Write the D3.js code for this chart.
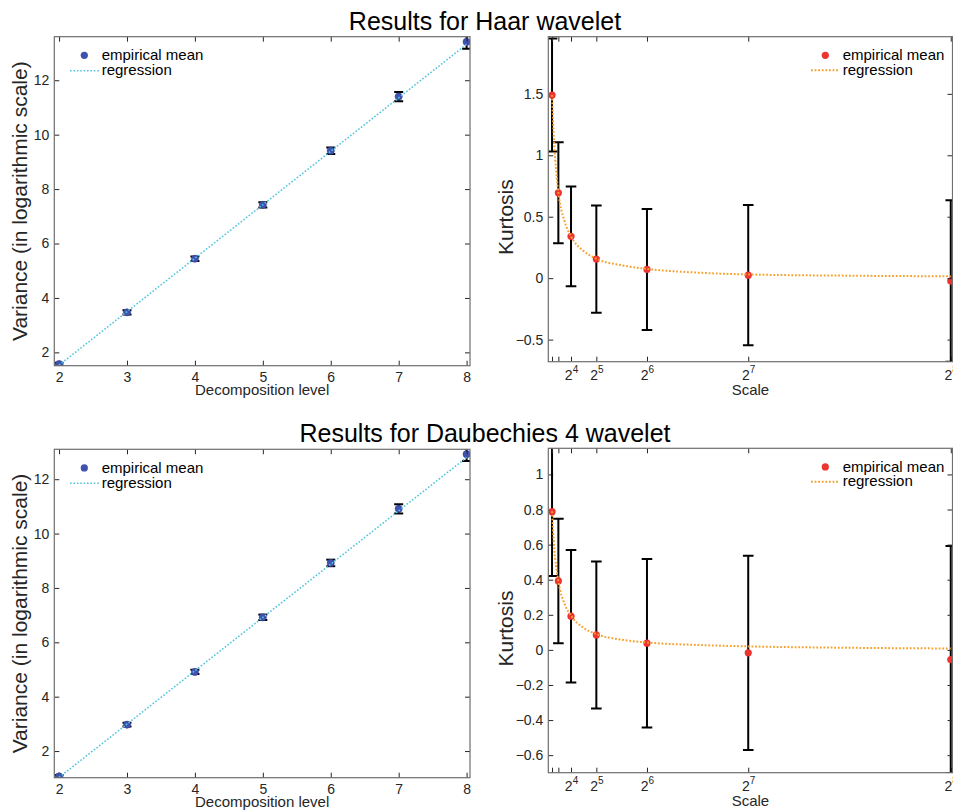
<!DOCTYPE html>
<html>
<head>
<meta charset="utf-8">
<script src="https://cdn.jsdelivr.net/npm/d3@7"></script>
<style>
  body { margin: 0; background: #fff; }
  svg { display: block; font-family: "Liberation Sans", Arial, Helvetica, sans-serif; }
  .tick text { fill: #262626; }
</style>
</head>
<body>
<div id="viz-container"></div>
<script>
// ---- data ----
// left column: variance vs decomposition level
const levels = [2, 3, 4, 5, 6, 7, 8];
const haarVar = [1.57, 3.47, 5.44, 7.42, 9.41, 11.40, 13.41];
const haarVarErr = [0.05, 0.08, 0.08, 0.10, 0.12, 0.17, 0.25];
const haarVarReg = [1.53, 13.32];   // regression at level 2 and 8
const db4Var = [1.07, 2.97, 4.91, 6.92, 8.92, 10.91, 12.92];
const db4VarErr = [0.05, 0.07, 0.08, 0.10, 0.12, 0.17, 0.25];
const db4VarReg = [1.03, 12.80];
const regLevels = [2, 8];
const varTicks = [2, 4, 6, 8, 10, 12];

// right column: kurtosis vs scale
const scales = [4, 8, 16, 32, 64, 128, 256];
const haarKurt = [1.49, 0.695, 0.34, 0.155, 0.071, 0.024, -0.024];
const haarKurtErr = [0.46, 0.41, 0.405, 0.437, 0.492, 0.571, 0.657];
const db4Kurt = [0.788, 0.393, 0.192, 0.085, 0.038, -0.017, -0.055];
const db4KurtErr = [0.367, 0.355, 0.378, 0.419, 0.48, 0.554, 0.647];
const regScales = [4, 5, 6, 8, 12, 16, 24, 32, 48, 64, 96, 128, 192, 256];
const haarKurtReg = [1.49, 1.18, 0.97, 0.70, 0.46, 0.34, 0.22, 0.158, 0.105, 0.075, 0.045, 0.03, 0.02, 0.015];
const db4KurtReg = [0.79, 0.63, 0.52, 0.39, 0.26, 0.195, 0.125, 0.09, 0.058, 0.042, 0.028, 0.02, 0.012, 0.008];
const scaleTicks = [4, 8, 16, 32, 64, 128, 256];
const scaleTickExp = ["", "", "4", "5", "6", "7", "8"];
const haarKurtTicks = [-0.5, 0, 0.5, 1, 1.5];
const db4KurtTicks = [-0.6, -0.4, -0.2, 0, 0.2, 0.4, 0.6, 0.8, 1];

const titles = ["Results for Haar wavelet", "Results for Daubechies 4 wavelet"];

let viz = d3.select("#viz-container")
  .append("svg")
    .attr("id", "viz")
    .attr("width", 953)
    .attr("height", 812)
;

// titles
viz.append("text").text(titles[0])
  .attr("x", 485).attr("y", 30)
  .attr("text-anchor", "middle").attr("font-size", 25).attr("fill", "#000");
viz.append("text").text(titles[1])
  .attr("x", 485).attr("y", 442)
  .attr("text-anchor", "middle").attr("font-size", 25).attr("fill", "#000");

// panels
drawVariance({
  id: "tl", left: 54.3, right: 470, top: 36.7, bottom: 365.7,
  ydom: [1.51, 13.6], mean: haarVar, err: haarVarErr, reg: haarVarReg
});
drawVariance({
  id: "bl", left: 54.3, right: 470, top: 449.3, bottom: 777.7,
  ydom: [1.02, 13.1], mean: db4Var, err: db4VarErr, reg: db4VarReg
});
drawKurtosis({
  id: "tr", left: 548.3, right: 952.5, top: 36.7, bottom: 361.7,
  ydom: [-0.68, 1.965], ticks: haarKurtTicks, fmt: d3.format(""),
  mean: haarKurt, err: haarKurtErr, reg: haarKurtReg
});
drawKurtosis({
  id: "br", left: 548.3, right: 952.5, top: 448.3, bottom: 772.7,
  ydom: [-0.70, 1.149], ticks: db4KurtTicks, fmt: d3.format(""),
  mean: db4Kurt, err: db4KurtErr, reg: db4KurtReg
});


function makeFrame(p, x, y){
  let g = viz.append("g");
  g.append("clipPath").attr("id", "clip-" + p.id)
    .append("rect")
      .attr("x", p.left).attr("y", p.top)
      .attr("width", p.right - p.left).attr("height", p.bottom - p.top);
  return g;
}

function drawBox(g, p, x, y, xticks, yticks){
  // inward ticks on all four sides, no labels on top/right
  g.append("g").attr("transform", "translate(0," + p.top + ")")
    .call(d3.axisTop(x).tickValues(xticks).tickSize(-5).tickFormat(""));
  g.append("g").attr("transform", "translate(" + p.right + ",0)")
    .call(d3.axisRight(y).tickValues(yticks).tickSize(-5).tickFormat(""));
  g.selectAll(".domain").remove();
  g.selectAll(".tick line").attr("stroke", "#262626");
  g.append("rect")
    .attr("x", p.left).attr("y", p.top)
    .attr("width", p.right - p.left).attr("height", p.bottom - p.top)
    .attr("fill", "none").attr("stroke", "#6e6e6e").attr("stroke-width", 1.2);
}

function errorBars(g, p, xs, mean, err, x, y, cap, sw){
  let eb = g.append("g").attr("clip-path", "url(#clip-" + p.id + ")")
    .attr("stroke", "#000").attr("stroke-width", sw).attr("fill", "none");
  xs.forEach(function(v, i){
    let lo = y(mean[i] - err[i]), hi = y(mean[i] + err[i]), cx = x(v);
    eb.append("line").attr("x1", cx).attr("x2", cx).attr("y1", lo).attr("y2", hi);
    eb.append("line").attr("x1", cx - cap).attr("x2", cx + cap).attr("y1", lo).attr("y2", lo);
    eb.append("line").attr("x1", cx - cap).attr("x2", cx + cap).attr("y1", hi).attr("y2", hi);
  });
}

function drawVariance(p){
  let x = d3.scaleLinear().domain([1.93, 8.05]).range([p.left, p.right]);
  let y = d3.scaleLinear().domain(p.ydom).range([p.bottom, p.top]);
  let g = makeFrame(p, x, y);

  let xa = g.append("g").attr("transform", "translate(0," + p.bottom + ")")
    .call(d3.axisBottom(x).tickValues(levels).tickSize(-5).tickPadding(6).tickFormat(d3.format("d")));
  xa.selectAll("text").attr("font-size", 14);
  let ya = g.append("g").attr("transform", "translate(" + p.left + ",0)")
    .call(d3.axisLeft(y).tickValues(varTicks).tickSize(-5).tickPadding(5).tickFormat(d3.format("d")));
  ya.selectAll("text").attr("font-size", 14);

  errorBars(g, p, levels, p.mean, p.err, x, y, 4.5, 2);

  g.append("g").attr("clip-path", "url(#clip-" + p.id + ")")
    .selectAll("circle").data(levels).enter()
    .append("circle")
      .attr("cx", d => x(d))
      .attr("cy", (d, i) => y(p.mean[i]))
      .attr("r", 3.6)
      .attr("fill", "#3f52b0")
      .attr("stroke", "#2f3f95").attr("stroke-width", 0.6);

  let line = d3.line().x(d => x(d[0])).y(d => y(d[1]));
  g.append("path").attr("clip-path", "url(#clip-" + p.id + ")")
    .attr("d", line(regLevels.map((v, i) => [v, p.reg[i]])))
    .attr("fill", "none").attr("stroke", "#52c6e0").attr("stroke-width", 1.6)
    .attr("stroke-dasharray", "1.6 1.8");

  drawBox(g, p, x, y, levels, varTicks);

  // labels
  g.append("text").text("Decomposition level")
    .attr("x", (p.left + p.right) / 2).attr("y", p.bottom + 29.5)
    .attr("text-anchor", "middle").attr("font-size", 15).attr("fill", "#262626");
  g.append("text").text("Variance (in logarithmic scale)")
    .attr("transform", "translate(27," + ((p.top + p.bottom) / 2) + ") rotate(-90)")
    .attr("text-anchor", "middle").attr("font-size", 21).attr("fill", "#262626");

  // legend
  g.append("circle").attr("cx", 84.3).attr("cy", p.top + 18.6).attr("r", 3.6)
    .attr("fill", "#3f52b0");
  g.append("line").attr("x1", 70).attr("x2", 99.3)
    .attr("y1", p.top + 34).attr("y2", p.top + 34)
    .attr("stroke", "#52c6e0").attr("stroke-width", 1.6).attr("stroke-dasharray", "1.6 1.8");
  g.append("text").text("empirical mean").attr("x", 101.7).attr("y", p.top + 23.5)
    .attr("font-size", 15).attr("fill", "#000");
  g.append("text").text("regression").attr("x", 101.7).attr("y", p.top + 38.5)
    .attr("font-size", 15).attr("fill", "#000");
}

function drawKurtosis(p){
  let x = d3.scaleLinear().domain([1.64, 257.1]).range([p.left, p.right]);
  let y = d3.scaleLinear().domain(p.ydom).range([p.bottom, p.top]);
  let g = makeFrame(p, x, y);

  let xa = g.append("g").attr("transform", "translate(0," + p.bottom + ")")
    .call(d3.axisBottom(x).tickValues(scaleTicks).tickSize(-5).tickFormat(""));
  xa.selectAll(".tick").each(function(d, i){
    if (scaleTickExp[i] == "") return;
    let t = d3.select(this).append("text")
      .attr("y", 18.5).attr("text-anchor", "middle").attr("font-size", 14).attr("fill", "#262626");
    t.append("tspan").text("2");
    t.append("tspan").text(scaleTickExp[i]).attr("font-size", 10).attr("dy", -7);
  });
  let ya = g.append("g").attr("transform", "translate(" + p.left + ",0)")
    .call(d3.axisLeft(y).tickValues(p.ticks).tickSize(-5).tickPadding(5).tickFormat(p.fmt));
  ya.selectAll("text").attr("font-size", 14);

  errorBars(g, p, scales, p.mean, p.err, x, y, 5.3, 2);

  g.append("g").attr("clip-path", "url(#clip-" + p.id + ")")
    .selectAll("circle").data(scales).enter()
    .append("circle")
      .attr("cx", d => x(d))
      .attr("cy", (d, i) => y(p.mean[i]))
      .attr("r", 3.6)
      .attr("fill", "#ec3430");

  let line = d3.line().x(d => x(d[0])).y(d => y(d[1])).curve(d3.curveMonotoneX);
  g.append("path").attr("clip-path", "url(#clip-" + p.id + ")")
    .attr("d", line(regScales.map((v, i) => [v, p.reg[i]])))
    .attr("fill", "none").attr("stroke", "#f7a12c").attr("stroke-width", 2)
    .attr("stroke-dasharray", "1.8 1.8");

  drawBox(g, p, x, y, scaleTicks, p.ticks);

  g.append("text").text("Scale")
    .attr("x", (p.left + p.right) / 2).attr("y", p.bottom + 33.5)
    .attr("text-anchor", "middle").attr("font-size", 15).attr("fill", "#262626");
  g.append("text").text("Kurtosis")
    .attr("transform", "translate(513," + ((p.top + p.bottom) / 2 + 18) + ") rotate(-90)")
    .attr("text-anchor", "middle").attr("font-size", 21).attr("fill", "#262626");

  // legend
  g.append("circle").attr("cx", 825.3).attr("cy", p.top + 18.6).attr("r", 3.6)
    .attr("fill", "#ec3430");
  g.append("line").attr("x1", 811).attr("x2", 839.3)
    .attr("y1", p.top + 33.5).attr("y2", p.top + 33.5)
    .attr("stroke", "#f7a12c").attr("stroke-width", 2).attr("stroke-dasharray", "1.8 1.8");
  g.append("text").text("empirical mean").attr("x", 842.7).attr("y", p.top + 23.5)
    .attr("font-size", 15).attr("fill", "#000");
  g.append("text").text("regression").attr("x", 842.7).attr("y", p.top + 38)
    .attr("font-size", 15).attr("fill", "#000");
}
</script>
</body>
</html>
